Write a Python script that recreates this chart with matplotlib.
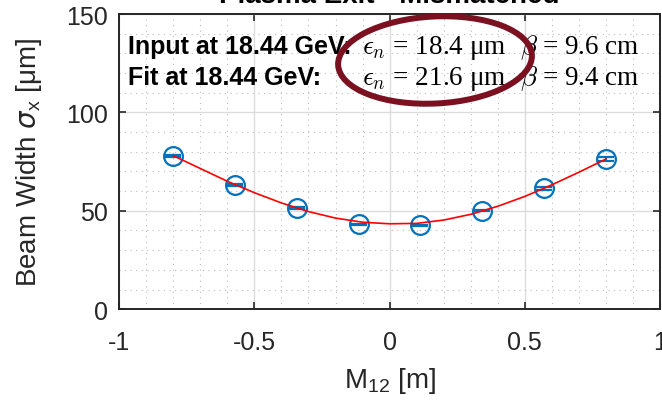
import matplotlib
matplotlib.use("Agg")
import matplotlib.pyplot as plt
from matplotlib.patches import Ellipse
from matplotlib.ticker import MultipleLocator


OUT = "out.png"

# measured beam width at the plasma exit vs. transport matrix element M12
m12 = [-0.8, -0.5714, -0.3429, -0.1143, 0.1143, 0.3429, 0.5714, 0.8]
sigma_x = [77.9, 63.2, 51.4, 43.2, 42.7, 50.0, 61.5, 76.3]
sigma_err = [0.6, 0.6, 0.3, 0.3, 0.3, 0.3, 0.7, 0.8]

# fitted envelope
fit_m12 = [-0.8, -0.7, -0.6, -0.5, -0.4, -0.3, -0.2, -0.1, 0.0,
           0.1, 0.2, 0.3, 0.4, 0.5, 0.6, 0.7, 0.8]
fit_sigma = [78.0, 71.5, 65.0, 59.2, 54.0, 49.6, 46.3, 44.2, 43.4,
             43.6, 45.3, 48.2, 52.3, 57.3, 63.2, 69.6, 76.3]

# twiss summary shown on the plot
labels = ["Input at 18.44 GeV:", "Fit at 18.44 GeV:"]
emittance = ["18.4", "21.6"]
beta = ["9.6", "9.4"]

AX_COLOR = "#262626"
BLUE = "#0072BD"


def style_axes(ax):
    ax.set_xlim(-1, 1)
    ax.set_ylim(0, 150)
    ax.xaxis.set_major_locator(MultipleLocator(0.5))
    ax.xaxis.set_minor_locator(MultipleLocator(0.1))
    ax.yaxis.set_major_locator(MultipleLocator(50))
    ax.yaxis.set_minor_locator(MultipleLocator(10))
    ax.set_xticks([-1, -0.5, 0, 0.5, 1])
    ax.set_xticklabels(["-1", "-0.5", "0", "0.5", "1"])

    ax.grid(True, which="major", color="#dcdcdc", linewidth=1.0, linestyle="-")
    ax.grid(True, which="minor", color="#bdbdbd", linewidth=0.8,
            linestyle=(0, (1, 4)))
    ax.set_axisbelow(True)

    ax.tick_params(which="major", direction="in", length=5, width=1.2,
                   top=True, right=True, colors=AX_COLOR, labelsize=18)
    ax.tick_params(axis="x", which="major", pad=15)
    ax.tick_params(axis="y", which="major", pad=8)
    ax.tick_params(which="minor", length=0)
    for s in ax.spines.values():
        s.set_color(AX_COLOR)
        s.set_linewidth(1.4)


def main():
    plt.rcParams["font.family"] = ["Liberation Sans", "DejaVu Sans"]

    fig = plt.figure(figsize=(6.62, 4.06), dpi=100)
    ax = fig.add_axes([0.18, 0.236, 0.817, 0.727])
    style_axes(ax)

    ax.errorbar(m12, sigma_x, yerr=sigma_err, fmt="o", ms=13.5,
                mfc="none", mec=BLUE, mew=1.6, ecolor=BLUE, elinewidth=1.5,
                capsize=6, capthick=1.5, zorder=3)
    ax.plot(fit_m12, fit_sigma, color="red", linewidth=1.2, zorder=4)

    ax.set_title("Plasma Exit - Mismatched", fontsize=20, fontweight="bold",
                 pad=8.6)
    ax.set_xlabel(r"M$_{\mathregular{12}}$ [m]", fontsize=20, color=AX_COLOR,
                  labelpad=8)
    ax.set_ylabel(r"Beam Width $\sigma_{\mathregular{x}}$ [μm]", fontsize=20,
                  color=AX_COLOR, labelpad=16)

    rows_y = [0.868, 0.763]
    for lab, eps, b, y in zip(labels, emittance, beta, rows_y):
        ax.text(0.017, y, lab, transform=ax.transAxes, fontsize=18,
                fontweight="bold", va="baseline", ha="left")
        ax.text(0.449, y, r"$\epsilon_n$ = " + eps + " μm",
                transform=ax.transAxes, fontsize=19.5, va="baseline",
                family="Liberation Serif", math_fontfamily="cm")
        ax.text(0.741, y, r"$\beta$ = " + b + " cm",
                transform=ax.transAxes, fontsize=19.5, va="baseline",
                family="Liberation Serif", math_fontfamily="cm")

    # highlight the emittance mismatch
    ring = Ellipse((4.35, 3.45), 1.94, 0.87, angle=3,
                   transform=fig.dpi_scale_trans, fill=False,
                   edgecolor="#7a1020", linewidth=4.3, clip_on=False,
                   zorder=6)
    fig.add_artist(ring)

    fig.savefig(OUT, dpi=100)
    plt.close(fig)


if __name__ == "__main__":
    main()
